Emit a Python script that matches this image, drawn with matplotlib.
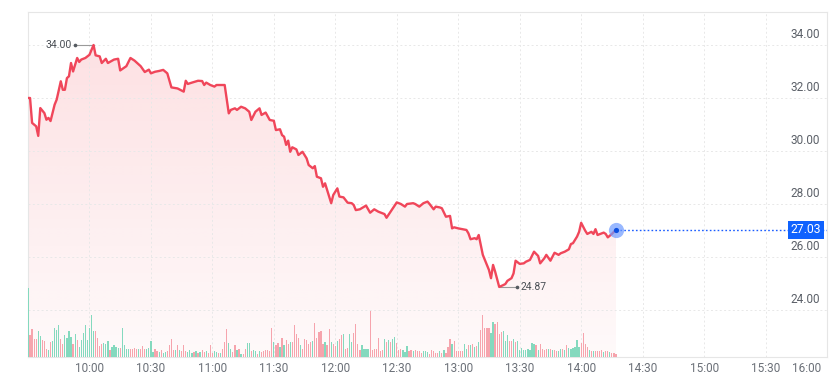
import numpy as np
import matplotlib
matplotlib.use("Agg")
import matplotlib.pyplot as plt
import matplotlib.transforms as mtransforms
from matplotlib.patches import Polygon

plt.rcParams['font.family'] = ['Roboto', 'DejaVu Sans']

# ---------------- data ----------------
# minutes since 09:30 session open
price_minutes = [0, 1, 2, 4, 5, 6, 8, 9, 10, 11, 13, 14, 16, 17, 18, 19, 20, 21, 22, 23,
                 24, 25, 26, 28, 30, 32, 33, 35, 36, 38, 39, 42, 44, 45, 48, 50, 52, 55, 57, 59,
                 60, 62, 64, 66, 68, 70, 73, 75, 76, 77, 78, 80, 83, 85, 86, 87, 89, 91, 92, 96,
                 98, 99, 101, 102, 104, 106, 108, 109, 111, 113, 114, 116, 118, 120, 121, 123, 124, 125, 126, 127,
                 128, 129, 131, 132, 134, 136, 137, 139, 140, 141, 143, 144, 145, 146, 148, 149, 151, 152, 154, 156,
                 158, 159, 160, 162, 165, 167, 169, 171, 174, 175, 177, 180, 182, 184, 185, 188, 189, 191, 193, 195,
                 196, 198, 199, 201, 202, 204, 206, 207, 208, 210, 214, 215, 216, 218, 219, 220, 222, 224, 225, 226,
                 227, 228, 230, 232, 233, 234, 236, 237, 238, 240, 242, 243, 245, 247, 249, 250, 252, 253, 255, 257,
                 259, 260, 262, 264, 265, 266, 268, 269, 270, 272, 273, 275, 276, 277, 278, 281, 282, 283, 285, 287]
price_values = [32.00, 32.00, 31.06, 30.93, 30.57, 31.62, 31.43, 31.18, 31.25, 31.13, 31.75, 31.94, 32.63, 32.31, 32.31, 32.75, 32.82, 33.32, 33.00, 33.26,
                33.51, 33.36, 33.45, 33.51, 33.63, 34.00, 33.61, 33.57, 33.32, 33.48, 33.32, 33.45, 33.48, 33.04, 33.20, 33.51, 33.41, 33.20, 32.98, 33.07,
                32.93, 32.99, 33.02, 33.06, 32.93, 32.40, 32.36, 32.28, 32.24, 32.65, 32.53, 32.58, 32.65, 32.64, 32.49, 32.58, 32.49, 32.43, 32.49, 32.49,
                31.42, 31.55, 31.61, 31.55, 31.67, 31.61, 31.48, 31.17, 31.48, 31.61, 31.36, 31.45, 31.17, 31.14, 30.79, 30.82, 30.60, 30.54, 30.23, 30.39,
                29.97, 30.14, 30.06, 29.85, 29.97, 29.72, 29.47, 29.35, 29.43, 29.03, 28.97, 28.65, 28.78, 28.53, 28.03, 28.34, 28.59, 28.28, 28.25, 28.05,
                28.03, 27.96, 27.77, 27.80, 27.94, 27.67, 27.80, 27.71, 27.62, 27.48, 27.71, 28.06, 28.00, 27.90, 28.00, 28.03, 28.00, 27.90, 28.03, 28.09,
                28.00, 27.80, 27.90, 27.87, 27.84, 27.52, 27.55, 27.08, 27.12, 27.08, 27.02, 26.89, 26.67, 26.71, 26.67, 26.83, 26.08, 25.70, 25.51, 25.20,
                25.70, 25.45, 24.87, 24.94, 24.98, 25.10, 25.20, 25.38, 25.86, 25.74, 25.76, 25.82, 25.89, 26.20, 26.04, 25.76, 25.95, 26.08, 25.86, 26.16,
                26.08, 26.14, 26.20, 26.29, 26.49, 26.52, 26.77, 26.95, 27.29, 26.99, 26.87, 26.95, 26.87, 27.05, 26.83, 26.92, 26.87, 26.74, 26.87, 27.03]

# per-minute volume (relative units) and direction (g = up, r = down)
volume = [69, 22, 28, 18, 18, 26, 21, 17, 16, 8, 7, 15, 16, 29, 27, 32, 18, 13, 22, 19,
          26, 20, 13, 23, 17, 10, 17, 24, 32, 17, 29, 42, 26, 26, 19, 11, 13, 14, 13, 16,
          7, 10, 12, 10, 9, 9, 29, 12, 8, 8, 8, 8, 9, 8, 8, 8, 11, 8, 8, 9,
          16, 5, 8, 6, 5, 7, 4, 5, 6, 12, 18, 7, 7, 12, 7, 6, 12, 6, 5, 7,
          4, 5, 6, 4, 5, 7, 5, 6, 4, 12, 4, 6, 5, 4, 4, 8, 15, 28, 14, 8,
          5, 12, 7, 8, 3, 3, 8, 14, 14, 6, 7, 6, 3, 6, 5, 6, 7, 7, 6, 29,
          15, 12, 14, 10, 19, 12, 17, 13, 15, 15, 32, 23, 19, 12, 8, 18, 17, 13, 15, 16,
          34, 19,
          25, 26, 13, 15, 12, 28, 15, 13, 11, 16, 18, 22, 23, 8, 9, 23, 15, 24, 33, 13,
          7, 12, 8, 8, 8, 46, 7, 8, 8, 19, 6, 7, 18, 15, 17, 15, 18, 20, 14, 7,
          8, 7, 5, 11, 6, 7, 6, 7, 6, 6, 4, 6, 6, 5, 3, 7, 6, 4, 4, 6,
          4, 7, 4, 10, 18, 13, 16, 6, 6, 6, 6, 13, 8, 12, 12, 13, 10, 11, 15, 27,
          42, 29, 29, 29, 24, 35, 33, 35, 23, 25, 26, 16, 22, 16, 16, 18, 15, 16, 7, 9,
          7, 7, 8, 7, 14, 13, 12, 7, 13, 8, 7, 8, 8, 8, 7, 7, 6, 6, 8, 8,
          7, 12, 9, 8, 9, 10, 17, 10, 14, 24, 13, 10, 7, 6, 6, 6, 6, 6, 7, 5,
          6, 6, 5, 4, 4, 3]
volume_dir = list("grrrrggrrr" "grggggrrgg" "ggrgrggggg" "gggrrrrggg" "rggggrgggg"
                  "rrrrgrrrgg" "ggrrgrggrr" "rrgrgrrrgg" "grgrgrrgrr" "rggrgrrrgg"
                  "rrgrgrrggr" "ggrgrrrrrr" "grrgrgrrgr" "rrrgrrrrrg" "rr"
                  "rrrgrrgrrg" "rrgrrggrrr" "rggggrrrrr" "rrgrgrggrr" "rgggrrgrrr"
                  "rgggrrrrrg" "rgrrrgrrrr" "rggrgrgrgr" "rrrrggrrrr" "gggrrgrggg"
                  "ggggggrgrr" "rrgrgrrggr" "grggggggrr" "rrgrgrrrrg" "rrgrrr")

tick_minutes = [30, 60, 90, 120, 150, 180, 210, 240, 270, 300, 330, 360, 390]
tick_labels = ["10:00", "10:30", "11:00", "11:30", "12:00", "12:30", "13:00",
               "13:30", "14:00", "14:30", "15:00", "15:30", "16:00"]
price_ticks = [24, 26, 28, 30, 32, 34]
last_price = 27.03
high_price, high_minute = 34.00, 32
low_price, low_minute = 24.87, 230

# ---------------- figure ----------------
W, H = 839, 381
fig = plt.figure(figsize=(W / 100, H / 100), dpi=100, facecolor='white')
ax = fig.add_axes([28 / W, 24 / H, 799 / W, 345 / H])
ymin, ymax = 22.226, 35.245
ax.set_facecolor('white')

# grid
ax.set_xticks(tick_minutes)
ax.set_yticks(price_ticks)
ax.grid(True, color='#e8e8e8', linestyle=(0, (2, 2.5)), linewidth=0.7, zorder=0)
ax.tick_params(length=0, labelleft=False, labelbottom=False)
for s in ax.spines.values():
    s.set_color('#e6e6e6')
    s.set_linewidth(0.8)

t = np.array(price_minutes, dtype=float)
p = np.array(price_values)

# gradient fill under price
n = 256
alpha = np.linspace(0.03, 0.17, n)
rgba = np.zeros((n, 1, 4))
rgba[:, 0, 0] = 242 / 255
rgba[:, 0, 1] = 73 / 255
rgba[:, 0, 2] = 87 / 255
rgba[:, 0, 3] = alpha
im = ax.imshow(rgba, extent=[t[0], t[-1], ymin, 34.3], origin='lower',
               aspect='auto', zorder=1, interpolation='bilinear')
verts = [(t[0], ymin)] + list(zip(t, p)) + [(t[-1], ymin)]
clip = Polygon(verts, closed=True, facecolor='none', edgecolor='none')
ax.add_patch(clip)
im.set_clip_path(clip)
ax.set_xlim(0, 390)
ax.set_ylim(ymin, ymax)

# price line
ax.plot(t, p, color='#f0465a', lw=1.7, zorder=4, solid_joinstyle='round')

# last price marker + dotted line + label
ax.plot([t[-1], 390], [last_price, last_price], color='#1a5cff', lw=1.0,
        ls=(0, (1.2, 1.6)), zorder=3)
ax.scatter([t[-1]], [last_price], s=120, color='#6e9bff', alpha=0.7, zorder=5, linewidths=0)
ax.scatter([t[-1]], [last_price], s=14, color='#0b4fe0', zorder=6, linewidths=0)
ax.text((806 - 28) / 799, last_price, f"{last_price:.2f}",
        transform=mtransforms.blended_transform_factory(ax.transAxes, ax.transData),
        ha='center', va='center', color='white', fontsize=8.7, zorder=7,
        bbox=dict(boxstyle='square,pad=0.22', fc='#0f62fe', ec='none'))

# high / low annotations
mpp = 30 / 61.4  # minutes per pixel
hx = high_minute - 18.5 * mpp
ax.plot([hx, high_minute], [high_price, high_price], color='#9a9a9a', lw=0.8, zorder=3)
ax.scatter([hx], [high_price], s=7, color='#555a60', zorder=5, linewidths=0)
ax.annotate(f"{high_price:.2f}", (hx, high_price), xytext=(-3, 0), textcoords='offset pixels',
            ha='right', va='center', fontsize=7.5, color='#4a4f55')
lx = low_minute + 17.5 * mpp
ax.plot([low_minute, lx], [low_price, low_price], color='#9a9a9a', lw=0.8, zorder=3)
ax.scatter([lx], [low_price], s=7, color='#555a60', zorder=5, linewidths=0)
ax.annotate(f"{low_price:.2f}", (lx, low_price), xytext=(4, 0), textcoords='offset pixels',
            ha='left', va='center', fontsize=7.5, color='#4a4f55')

# y labels (inside, right, above grid lines)
ytr = mtransforms.blended_transform_factory(ax.transAxes, ax.transData) + \
    mtransforms.ScaledTranslation(0, 0.10, fig.dpi_scale_trans)
for v in price_ticks:
    ax.text((820 - 28) / 799, v, f"{v:.2f}", transform=ytr, ha='right', va='center',
            fontsize=8.5, color='#5b6068')

# x labels
xtr = mtransforms.blended_transform_factory(ax.transData, ax.transAxes)
for m, lab in zip(tick_minutes, tick_labels):
    if m == 390:
        ax.text(m, -12 / 345, lab, transform=xtr + mtransforms.ScaledTranslation(-0.06, 0, fig.dpi_scale_trans),
                ha='right', va='center', fontsize=8.5, color='#6b7078')
    else:
        ax.text(m, -12 / 345, lab, transform=xtr, ha='center', va='center',
                fontsize=8.5, color='#6b7078')

# volume bars
axv = ax.twinx()
axv.set_ylim(0, 345)
axv.set_xlim(0, 390)
axv.axis('off')
vm = np.arange(len(volume))
cols = ['#84d9be' if d == 'g' else '#f6a4ad' for d in volume_dir[:len(volume)]]
axv.bar(vm, volume, width=0.6, color=cols, linewidth=0, zorder=2, antialiased=False)

fig.savefig('out.png', dpi=100, facecolor='white')
